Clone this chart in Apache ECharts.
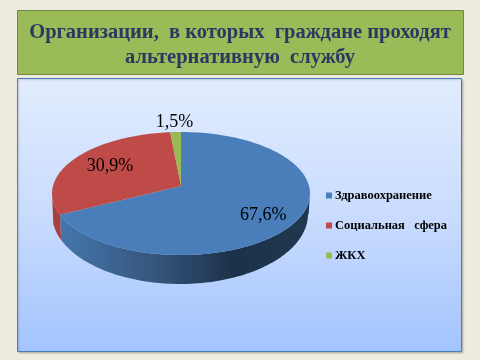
<!DOCTYPE html>
<html><head><meta charset="utf-8">
<style>html,body{margin:0;padding:0;background:#EEECE1}#c{width:480px;height:360px}</style>
<script src="https://cdn.jsdelivr.net/npm/echarts@6/dist/echarts.min.js"></script>
</head><body><div id="c"></div>
<script>
const categories = ['Здравоохранение', 'Социальная   сфера', 'ЖКХ'];
const shares = [67.6, 30.9, 1.5];
const shareLabels = ['67,6%', '30,9%', '1,5%'];
const colors = ['#4A7EBB', '#BE4B48', '#98B954'];

const P = {cx: 181, cy: 186, a: 128, b: 60.6, k: 0.122};
const base = {cx: 180, cy: 214, a: 128, b: 70, shrink: 0.99};
const labelRadius = [0.72, 0.66, 1.25];
const labelShift = [5, -1, 2];
const total = shares.reduce((s, v) => s + v, 0);
const starts = shares.map((_, i) => shares.slice(0, i).reduce((s, v) => s + v, 0));

function pt(deg, f) {
  const t = deg * Math.PI / 180, u = Math.sin(t) * f, v = -Math.cos(t) * f, w = 1 - P.k * v;
  return [P.cx + P.a * u / w, P.cy + P.b * v / w];
}
function arc(from, to) {
  const n = Math.max(2, Math.ceil(Math.abs(to - from) / 1.5)), out = [];
  for (let i = 0; i <= n; i++) out.push(pt(from + (to - from) * i / n, 1));
  return out;
}
function lower(p) {
  const x = base.cx + (p[0] - base.cx) * base.shrink;
  const q = Math.min(1, Math.abs(x - base.cx) / base.a);
  return [x, base.cy + base.b * Math.sqrt(1 - q * q)];
}
const blueWall = {type: 'linear', x: 60, y: 0, x2: 309, y2: 0, global: true, colorStops: [
  {offset: 0, color: '#4576AC'}, {offset: 0.36, color: '#37587F'},
  {offset: 0.7, color: '#1C3149'}, {offset: 1, color: '#20384F'}]};
const walls = ['', '#A8403D', '#83A04A'];

function renderSlice(i) {
  return function (params, api) {
    const value = api.value(0);
    const a0 = starts[i] / total * 360, a1 = a0 + value / total * 360;
    const children = [];
    const w0 = Math.max(a0, 97), w1 = Math.min(a1, 263);
    if (w1 > w0) {
      const edge = arc(w0, w1);
      children.push({type: 'polygon',
        shape: {points: edge.concat(edge.map(lower).reverse())},
        style: {fill: i === 0 ? blueWall : walls[i]}});
    }
    children.push({type: 'polygon',
      shape: {points: [[P.cx, P.cy]].concat(arc(a0, a1))},
      style: {fill: colors[i]}});
    const l = pt((a0 + a1) / 2, labelRadius[i]);
    children.push({type: 'text', z2: 10, x: l[0], y: l[1] + labelShift[i], style: {
      text: shareLabels[i], fill: '#000', align: 'center', verticalAlign: 'middle',
      font: '18px "Liberation Serif"'}});
    return {type: 'group', children};
  };
}

const chart = echarts.init(document.getElementById('c'), null, {renderer: 'canvas'});
chart.setOption({
  backgroundColor: '#EEECE1',
  animation: false,
  title: {
    text: 'Организации,  в которых  граждане проходят\nальтернативную  службу',
    left: 235, top: 15, textAlign: 'center',
    textStyle: {fontFamily: 'Liberation Serif', fontWeight: 'bold', fontSize: 20.5, lineHeight: 25, color: '#283A62'}
  },
  legend: {
    orient: 'vertical', left: 321, top: 188, itemWidth: 6, itemHeight: 6, itemGap: 15,
    padding: [0, 0, 0, 5], icon: 'rect', selectedMode: false, data: categories,
    textStyle: {fontFamily: 'Liberation Serif', fontWeight: 'bold', fontSize: 12.5, color: '#000', padding: [0, 0, 0, -2], height: 15, lineHeight: 15}
  },
  graphic: [
    {type: 'rect', z: -10, shape: {x: 17.5, y: 10.5, width: 446, height: 64},
      style: {fill: '#9BBB59', stroke: '#71893F', lineWidth: 1}},
    {type: 'rect', z: -10, shape: {x: 17.5, y: 78.5, width: 444, height: 273},
      style: {stroke: '#4A7EBB', lineWidth: 1, shadowBlur: 2, shadowColor: 'rgba(0,0,0,0.2)', shadowOffsetX: 1, shadowOffsetY: 1,
        fill: new echarts.graphic.LinearGradient(0, 0, 0, 1, [
          {offset: 0, color: '#E2ECFE'}, {offset: 0.5, color: '#C9DCFE'}, {offset: 1, color: '#A3C4FF'}])}}
  ],
  series: categories.map((name, i) => ({
    type: 'custom', coordinateSystem: 'none', name,
    silent: true, itemStyle: {color: colors[i]},
    data: [[shares[i]]], renderItem: renderSlice(i)
  }))
});
</script></body></html>
